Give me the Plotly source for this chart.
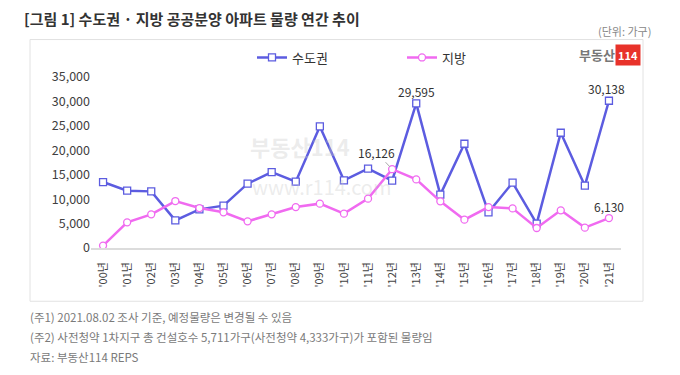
import plotly.graph_objects as go

years = ["'00년", "'01년", "'02년", "'03년", "'04년", "'05년", "'06년", "'07년", "'08년", "'09년", "'10년",
         "'11년", "'12년", "'13년", "'14년", "'15년", "'16년", "'17년", "'18년", "'19년", "'20년", "'21년"]
capital = [13500, 11730, 11590, 5660, 7910, 8670, 13160, 15530, 13570, 24880, 13840,
           16230, 13780, 29595, 10920, 21340, 7300, 13370, 4990, 23590, 12750, 30138]
regional = [500, 5250, 6890, 9610, 8180, 7300, 5460, 6890, 8380, 9080, 7030,
            10100, 16126, 14040, 9550, 5800, 8380, 8110, 4090, 7710, 4170, 6130]
y_ticks = [0, 5000, 10000, 15000, 20000, 25000, 30000, 35000]

W, H = 680, 375
L, R, T, B = 91, 59, 76.5, 127.3
pw, ph = W - L - R, H - T - B

def px(x):
    return (x - L) / pw

def py(y):
    return (H - B - y) / ph

FONT = "Noto Sans CJK KR, Noto Sans, sans-serif"
BLUE = "#5c5ce0"
PINK = "#f06af0"

fig = go.Figure()
fig.add_trace(go.Scatter(
    x=years, y=capital, name="수도권", mode="lines+markers",
    line=dict(color=BLUE, width=2.5),
    marker=dict(symbol="square", size=7, color="white", line=dict(color=BLUE, width=1.3)),
))
fig.add_trace(go.Scatter(
    x=years, y=regional, name="지방", mode="lines+markers",
    line=dict(color=PINK, width=2.5),
    marker=dict(symbol="circle", size=7, color="white", line=dict(color=PINK, width=1.3)),
))

annotations = []
# faint watermark
annotations.append(dict(xref="paper", yref="paper", x=px(300), y=py(128), text="<b>부동산114</b>",
                        showarrow=False, font=dict(family=FONT, size=22, color="rgba(200,200,200,0.35)")))
annotations.append(dict(xref="paper", yref="paper", x=px(322), y=py(186), text="www.r114.com",
                        showarrow=False, font=dict(family=FONT, size=20, color="rgba(200,200,200,0.35)")))

# data labels
label_font = dict(family=FONT, size=12, color="#333")
annotations.append(dict(x=years[13], y=capital[13], text=f"{capital[13]:,}", showarrow=False, yshift=12,
                        font=label_font))
annotations.append(dict(x=years[21], y=capital[21], text=f"{capital[21]:,}", showarrow=False, yshift=12,
                        xshift=-2, font=label_font))
annotations.append(dict(x=years[21], y=regional[21], text=f"{regional[21]:,}", showarrow=False, yshift=12,
                        font=label_font))
annotations.append(dict(x=years[12], y=regional[12], text=f"{regional[12]:,}", showarrow=True,
                        arrowhead=0, arrowcolor="#aaaaaa", arrowwidth=1, ax=-16, ay=-17, standoff=3,
                        font=label_font))

# title and unit
annotations.append(dict(xref="paper", yref="paper", x=px(22), y=py(18), xanchor="left", yanchor="middle",
                        text="<b>[그림 1] 수도권 · 지방 공공분양 아파트 물량 연간 추이</b>", showarrow=False,
                        font=dict(family=FONT, size=15, color="#333")))
annotations.append(dict(xref="paper", yref="paper", x=px(653), y=py(30), xanchor="right", yanchor="middle",
                        text="(단위: 가구)", showarrow=False, font=dict(family=FONT, size=11, color="#888")))
# logo
annotations.append(dict(xref="paper", yref="paper", x=px(617), y=py(54), xanchor="right", yanchor="middle",
                        text="<b>부동산</b>", showarrow=False, font=dict(family=FONT, size=13, color="#777")))
annotations.append(dict(xref="paper", yref="paper", x=px(628), y=py(54), xanchor="center", yanchor="middle",
                        text="<b>114</b>", showarrow=False, bgcolor="#e8322a", borderpad=2,
                        font=dict(family=FONT, size=11, color="white")))
# footnotes
notes = ["(주1) 2021.08.02 조사 기준, 예정물량은 변경될 수 있음",
         "(주2) 사전청약 1차지구 총 건설호수 5,711가구(사전청약 4,333가구)가 포함된 물량임",
         "자료: 부동산114 REPS"]
for k, n in enumerate(notes):
    annotations.append(dict(xref="paper", yref="paper", x=px(28), y=py(317 + 20 * k), xanchor="left",
                            yanchor="middle", text=n, showarrow=False,
                            font=dict(family=FONT, size=11.5, color="#7a7a7a")))

shapes = [dict(type="rect", xref="paper", yref="paper", x0=px(30), x1=px(643), y0=py(301), y1=py(39),
               line=dict(color="#e2e2e2", width=1), fillcolor="rgba(0,0,0,0)", layer="below")]

fig.update_layout(
    width=W, height=H, margin=dict(l=L, r=R, t=T, b=B),
    paper_bgcolor="white", plot_bgcolor="white",
    font=dict(family=FONT, size=12, color="#404040"),
    showlegend=True,
    legend=dict(orientation="h", x=px(252), y=py(57), xanchor="left", yanchor="middle",
                font=dict(family=FONT, size=13, color="#333"), bgcolor="rgba(0,0,0,0)",
                itemwidth=30, entrywidth=105, tracegroupgap=0),
    xaxis=dict(type="category", range=[-0.5, 21.5], showgrid=False, showline=True,
               linecolor="#dcdcdc", linewidth=1.5, ticks="", tickangle=-90, ticklabelstandoff=8,
               tickfont=dict(family=FONT, size=11, color="#444")),
    yaxis=dict(range=[0, 35000], tickvals=y_ticks, tickformat=",", showgrid=False, zeroline=False,
               showline=False, ticks="", tickfont=dict(family=FONT, size=12.5, color="#404040")),
    annotations=annotations, shapes=shapes,
)

fig.write_html("out.html", config={"displayModeBar": False},
               post_script="document.body.style.margin='0';document.body.style.padding='0';")
